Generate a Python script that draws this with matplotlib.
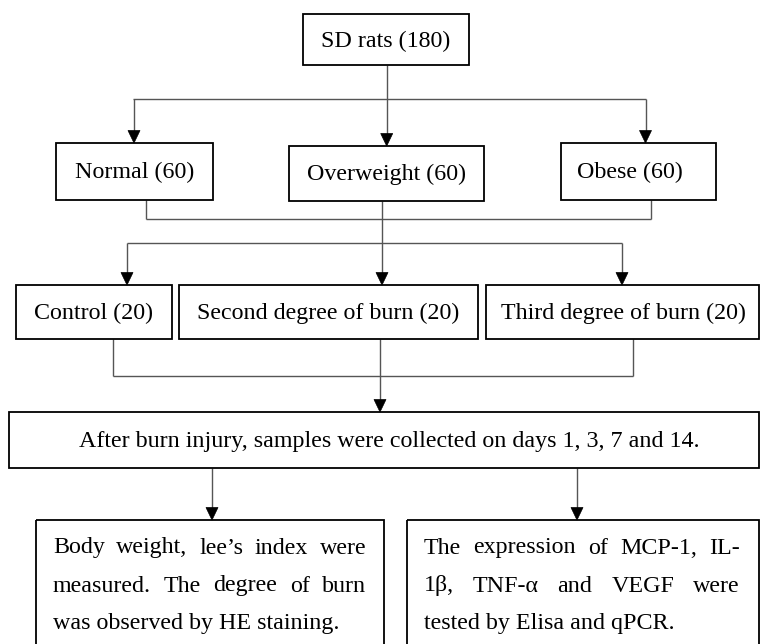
import matplotlib
matplotlib.use("Agg")
import matplotlib.pyplot as plt
from matplotlib.patches import Rectangle, Polygon

# ---- content ----
top_label = "SD rats (180)"
weight_labels = ["Normal (60)", "Overweight (60)", "Obese (60)"]
burn_labels = ["Control (20)", "Second degree of burn (20)", "Third degree of burn (20)"]
collect_label = "After burn injury, samples were collected on days 1, 3, 7 and 14."
left_lines = ["Body weight, lee\u2019s index were",
              "measured. The degree of burn",
              "was observed by HE staining."]
right_lines = ["The expression of MCP-1, IL-",
               "1\u03b2, TNF-\u03b1 and VEGF were",
               "tested by Elisa and qPCR."]

FONT = "Liberation Serif"
FS = 17.3
W, H = 760, 644

fig = plt.figure(figsize=(W / 100, H / 100), dpi=100)
ax = fig.add_axes([0, 0, 1, 1])
ax.set_xlim(0, W)
ax.set_ylim(H, 0)
ax.axis("off")

BOX_LW = 1.3
LINE_C = "#555555"
LINE_LW = 1.0


def box(x0, y0, x1, y1):
    ax.add_patch(Rectangle((x0, y0), x1 - x0, y1 - y0, fill=False,
                           edgecolor="black", linewidth=BOX_LW, zorder=3))


def label(x, y, s, ha="center"):
    ax.text(x, y, s, ha=ha, va="center", fontsize=FS, family=FONT, color="black")


def seg(pts):
    xs = [p[0] for p in pts]
    ys = [p[1] for p in pts]
    ax.plot(xs, ys, color=LINE_C, lw=LINE_LW, solid_capstyle="butt", zorder=2)


def arrow(x, y0, y1, hw=6.0, hl=12.5):
    seg([(x, y0), (x, y1 - hl + 1)])
    ax.add_patch(Polygon([(x - hw, y1 - hl), (x + hw, y1 - hl), (x, y1)],
                         closed=True, facecolor="black", edgecolor="black",
                         lw=0.5, zorder=4))


# top box
box(303, 14, 469, 65)
label(386, 41, top_label)

# weight boxes
wboxes = [(56, 143, 213, 200), (289, 146, 484, 201), (561, 143, 716, 200)]
wtext_x = [134.5, 386.7, 630]
for b, t, tx in zip(wboxes, weight_labels, wtext_x):
    box(*b)
    label(tx, (b[1] + b[3]) / 2 + 1, t)

seg([(386.7, 65), (386.7, 99)])
seg([(133, 99), (645.5, 99)])
arrow(134, 99, 143)
arrow(386.7, 99, 146)
arrow(645.5, 99, 143)

# merge from weight boxes
seg([(146, 200), (146, 219)])
seg([(650.7, 200), (650.7, 219)])
seg([(146, 219), (650.7, 219)])
seg([(382, 201), (382, 243)])
seg([(127, 243), (622, 243)])
arrow(127, 243, 285)
arrow(382, 243, 285)
arrow(622, 243, 285)

# burn boxes
bboxes = [(16, 285, 172, 339), (179, 285, 478, 339), (486, 285, 759, 339)]
btext_x = [93.5, 328, 623]
for b, t, tx in zip(bboxes, burn_labels, btext_x):
    box(*b)
    label(tx, (b[1] + b[3]) / 2 + 1, t)

seg([(113, 339), (113, 376)])
seg([(633, 339), (633, 376)])
seg([(113, 376), (633, 376)])
seg([(380, 339), (380, 376)])
arrow(380, 376, 412)

# collection box
box(9, 412, 759, 468)
label(389, 441, collect_label)

arrow(212, 468, 520)
arrow(577, 468, 520)

# bottom boxes (extend past bottom edge)
box(35.5, 520, 384, 660)
box(407, 520, 759, 660)

fig.canvas.draw()
renderer = fig.canvas.get_renderer()


def justified(lines, x0, x1, ys):
    for i, (line, y) in enumerate(zip(lines, ys)):
        if i == len(lines) - 1:
            label(x0, y, line, ha="left")
            continue
        words = line.split(" ")
        objs = [ax.text(0, y, w, ha="left", va="center", fontsize=FS,
                        family=FONT, color="black") for w in words]
        widths = [o.get_window_extent(renderer).width for o in objs]
        gap = (x1 - x0 - sum(widths)) / (len(words) - 1)
        x = x0
        for o, w in zip(objs, widths):
            o.set_x(x)
            x += w + gap


line_y = [548, 586, 623]
justified(left_lines, 53, 366.5, line_y)
justified(right_lines, 424, 739.5, line_y)

fig.savefig("out.png", dpi=100)
